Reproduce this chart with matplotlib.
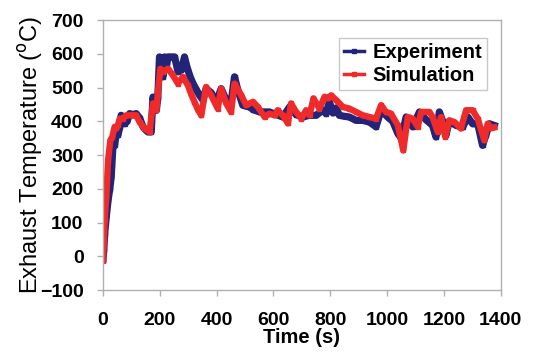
import matplotlib

matplotlib.use("Agg")
import matplotlib.pyplot as plt

# experiment (blue)
exp_time = [0, 3, 6, 12, 18, 24, 29, 35, 41, 47, 53, 59, 64, 70, 76, 85, 94, 105, 117, 129,
            141, 150, 158, 170, 176, 182, 188, 193, 199, 205, 211, 217, 223, 229, 240, 252,
            258, 264, 270, 276, 287, 293, 299, 308, 317, 328, 340, 352, 363, 381, 399, 416,
            434, 451, 463, 475, 492, 504, 516, 528, 551, 569, 586, 610, 633, 657, 680, 703,
            727, 750, 774, 785, 797, 809, 821, 832, 850, 867, 891, 914, 938, 961, 979, 1002,
            1020, 1038, 1050, 1067, 1090, 1114, 1137, 1160, 1172, 1184, 1196, 1207, 1219,
            1243, 1266, 1284, 1301, 1319, 1336, 1348, 1360, 1377]
exp_temp = [-10, 20, 67, 120, 166, 200, 235, 324, 330, 364, 360, 383, 418, 410, 393, 400, 423,
            420, 423, 410, 384, 375, 369, 369, 472, 450, 433, 470, 591, 560, 532, 591, 560,
            591, 591, 591, 570, 547, 560, 552, 591, 570, 552, 530, 512, 495, 477, 463, 497,
            485, 458, 497, 463, 455, 532, 492, 448, 445, 443, 435, 428, 428, 428, 420, 413,
            443, 420, 413, 418, 418, 433, 423, 458, 425, 440, 418, 415, 413, 403, 403, 398,
            384, 433, 413, 400, 364, 350, 413, 384, 428, 405, 388, 354, 428, 400, 359, 400,
            388, 383, 413, 393, 393, 329, 360, 393, 388]

# simulation (red)
sim_time = [0, 3, 6, 12, 18, 26, 33, 41, 47, 53, 59, 70, 82, 94, 105, 117, 129, 146, 164,
            176, 188, 193, 202, 211, 220, 229, 246, 264, 281, 299, 310, 322, 334, 346, 363,
            381, 404, 416, 434, 451, 463, 487, 504, 528, 545, 569, 586, 604, 615, 633, 651,
            662, 680, 698, 715, 727, 741, 762, 780, 791, 803, 821, 844, 867, 891, 914, 938,
            961, 979, 996, 1014, 1038, 1057, 1073, 1090, 1108, 1120, 1149, 1160, 1178, 1190,
            1205, 1219, 1237, 1260, 1278, 1301, 1319, 1342, 1354, 1366, 1377]
sim_temp = [-12, 40, 107, 180, 285, 344, 354, 384, 379, 390, 408, 408, 418, 418, 418, 418,
            398, 379, 369, 453, 433, 482, 556, 546, 552, 556, 537, 512, 532, 507, 482, 458,
            435, 418, 502, 477, 438, 497, 453, 428, 512, 477, 448, 458, 443, 413, 423, 418,
            433, 418, 394, 453, 428, 408, 433, 418, 468, 438, 473, 468, 477, 463, 443, 438,
            428, 418, 413, 408, 448, 428, 423, 388, 314, 413, 408, 384, 428, 428, 413, 369,
            413, 354, 403, 398, 379, 433, 433, 408, 344, 393, 380, 382]

fig = plt.figure(figsize=(5.39, 3.53), dpi=100)
ax = fig.add_axes([0.191, 0.178, 0.738, 0.765])

ax.plot(exp_time, exp_temp, color="#232378", linewidth=5.2, marker="s", markersize=3,
        label="Experiment")
ax.plot(sim_time, sim_temp, color="#EE2A2A", linewidth=4.6, marker="s", markersize=3,
        label="Simulation")

ax.set_xlim(0, 1400)
ax.set_ylim(-100, 700)
ax.set_xticks(range(0, 1401, 200))
ax.set_yticks(range(-100, 701, 100))

font = "Liberation Sans"
for lbl in ax.get_xticklabels() + ax.get_yticklabels():
    lbl.set_fontfamily(font)
    lbl.set_fontweight("bold")
    lbl.set_fontsize(14)

ax.set_xlabel("Time (s)", fontfamily=font, fontweight="bold", fontsize=14.5, labelpad=-1)
ax.set_ylabel("Exhaust Temperature ($^{\\mathrm{o}}$C)", fontfamily=font, fontsize=17,
              labelpad=-4)

for spine in ax.spines.values():
    spine.set_color("#B0B0B0")
    spine.set_linewidth(1.0)
ax.tick_params(axis="x", direction="out", length=4, width=1, color="#B0B0B0", pad=12)
ax.tick_params(axis="y", direction="out", length=4, width=1, color="#B0B0B0", pad=10)

leg = ax.legend(loc="upper right", bbox_to_anchor=(0.966, 0.935),
                prop={"family": font, "weight": "bold", "size": 14.5},
                handlelength=1.0, handletextpad=0.4, borderpad=0.25, labelspacing=0.22,
                borderaxespad=0, fancybox=False, framealpha=1)
leg.get_frame().set_edgecolor("#C8C8C8")
leg.get_frame().set_linewidth(1.0)
for line in leg.get_lines():
    line.set_linewidth(2.5)

fig.savefig("out.png", dpi=100)
